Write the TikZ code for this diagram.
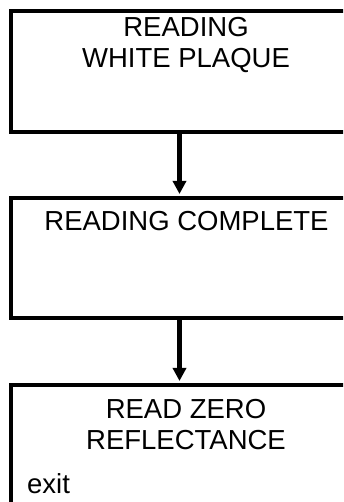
\documentclass[tikz,border=0pt]{standalone}
\usepackage{fontspec}
\setmainfont{Liberation Sans}
\usetikzlibrary{arrows.meta}
\begin{document}
\begin{tikzpicture}[x=1pt,y=1pt,
  box/.style={draw=black, line width=4pt, minimum width=337pt, inner sep=0pt, fill=white},
  lbl/.style={anchor=base, inner sep=0pt, font=\fontsize{27.5}{31}\selectfont},
  flow/.style={line width=4.5pt, -{Triangle[width=13pt,length=13pt]}, shorten >=2pt}]
\useasboundingbox (0,0) rectangle (343,502);
\clip (0,0) rectangle (343,502);
\fill[white] (0,0) rectangle (343,502);
\node[box, minimum height=121pt] (b1) at (179.5,430.5) {};
\node[box, minimum height=120pt] (b2) at (179.5,244) {};
\node[box, minimum height=130pt] (b3) at (179.5,52) {};
\draw[flow] (b1.south) -- (b2.north);
\draw[flow] (b2.south) -- (b3.north);
\node[lbl] (t1a) at (186,465) {READING};
\node[lbl] (t1b) at (186,434) {WHITE PLAQUE};
\node[lbl] (t2) at (186.5,271) {READING COMPLETE};
\node[lbl] (t3a) at (186,83) {READ ZERO};
\node[lbl] (t3b) at (186,52) {REFLECTANCE};
\node[lbl, anchor=base west] (t3c) at (27,9) {exit};
\end{tikzpicture}
\end{document}
